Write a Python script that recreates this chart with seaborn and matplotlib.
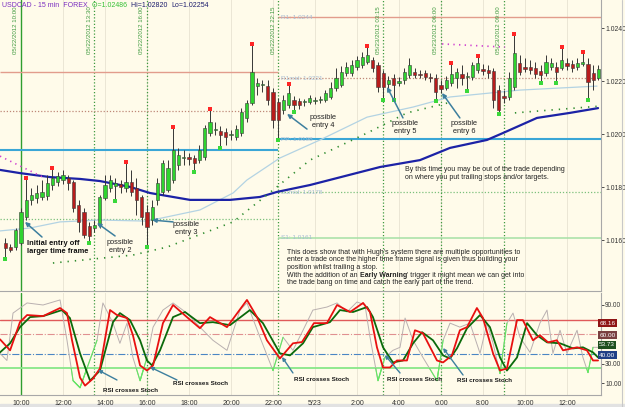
import numpy as np
import matplotlib
matplotlib.use('Agg')
import matplotlib.pyplot as plt
import matplotlib.transforms as mtransforms
import seaborn as sns
import pandas as pd

# ---- price data: 15 min bars, time in hours from 05/22 00:00 ----
bar_idx = list(range(1, 115))
opens = [1.01590, 1.01574, 1.01574, 1.01590, 1.01687, 1.01752, 1.01759, 1.01763, 1.01767, 1.01808,
         1.01820, 1.01827, 1.01835, 1.01820, 1.01733, 1.01706, 1.01654, 1.01646, 1.01657, 1.01759,
         1.01797, 1.01804, 1.01812, 1.01797, 1.01820, 1.01797, 1.01763, 1.01706, 1.01676, 1.01752,
         1.01782, 1.01789, 1.01827, 1.01884, 1.01910, 1.01914, 1.01910, 1.01902, 1.01914, 1.02004,
         1.02015, 1.02012, 1.02008, 1.01997, 1.01989, 1.02004, 1.02061, 1.02117, 1.02181, 1.02185,
         1.02181, 1.02159, 1.02121, 1.02091, 1.02110, 1.02129, 1.02125, 1.02121, 1.02121, 1.02125,
         1.02129, 1.02129, 1.02140, 1.02174, 1.02185, 1.02230, 1.02230, 1.02253, 1.02261, 1.02272,
         1.02279, 1.02261, 1.02230, 1.02189, 1.02212, 1.02193, 1.02204, 1.02223, 1.02234, 1.02227,
         1.02230, 1.02215, 1.02212, 1.02185, 1.02174, 1.02193, 1.02212, 1.02227, 1.02215, 1.02215,
         1.02242, 1.02245, 1.02242, 1.02238, 1.02166, 1.02144, 1.02140, 1.02178, 1.02268, 1.02253,
         1.02253, 1.02249, 1.02238, 1.02230, 1.02253, 1.02253, 1.02249, 1.02268, 1.02264, 1.02253,
         1.02264, 1.02264, 1.02230, 1.02212]
closes = [1.01571, 1.01563, 1.01638, 1.01706, 1.01752, 1.01770, 1.01778, 1.01782, 1.01816, 1.01835,
          1.01842, 1.01846, 1.01816, 1.01721, 1.01669, 1.01620, 1.01616, 1.01657, 1.01763, 1.01808,
          1.01827, 1.01816, 1.01801, 1.01820, 1.01782, 1.01752, 1.01687, 1.01650, 1.01725, 1.01816,
          1.01891, 1.01872, 1.01940, 1.01921, 1.01914, 1.01906, 1.01891, 1.01940, 1.02023, 1.02046,
          1.02019, 1.01997, 1.01989, 1.02000, 1.02019, 1.02083, 1.02117, 1.02234, 1.02193, 1.02189,
          1.02129, 1.02053, 1.02053, 1.02129, 1.02155, 1.02110, 1.02110, 1.02125, 1.02136, 1.02129,
          1.02132, 1.02155, 1.02174, 1.02212, 1.02234, 1.02253, 1.02261, 1.02279, 1.02291, 1.02298,
          1.02249, 1.02178, 1.02178, 1.02204, 1.02185, 1.02200, 1.02234, 1.02261, 1.02223, 1.02223,
          1.02215, 1.02212, 1.02159, 1.02170, 1.02204, 1.02227, 1.02234, 1.02212, 1.02219, 1.02261,
          1.02268, 1.02238, 1.02230, 1.02129, 1.02091, 1.02136, 1.02212, 1.02306, 1.02234, 1.02245,
          1.02242, 1.02227, 1.02223, 1.02272, 1.02268, 1.02234, 1.02279, 1.02257, 1.02249, 1.02268,
          1.02272, 1.02196, 1.02204, 1.02245]
highs = [1.01608, 1.01586, 1.01646, 1.01721, 1.01835, 1.01797, 1.01808, 1.01827, 1.01846, 1.01872,
         1.01857, 1.01865, 1.01846, 1.01827, 1.01752, 1.01721, 1.01669, 1.01676, 1.01770, 1.01846,
         1.01846, 1.01835, 1.01827, 1.01895, 1.01865, 1.01835, 1.01770, 1.01733, 1.01752, 1.01835,
         1.01902, 1.01902, 1.02027, 1.01948, 1.01940, 1.01929, 1.01921, 1.01959, 1.02034, 1.02095,
         1.02046, 1.02031, 1.02023, 1.02015, 1.02034, 1.02098, 1.02129, 1.02340, 1.02212, 1.02204,
         1.02204, 1.02174, 1.02136, 1.02147, 1.02189, 1.02144, 1.02136, 1.02132, 1.02147, 1.02140,
         1.02144, 1.02166, 1.02196, 1.02249, 1.02257, 1.02272, 1.02279, 1.02294, 1.02310, 1.02332,
         1.02291, 1.02272, 1.02242, 1.02219, 1.02227, 1.02215, 1.02249, 1.02287, 1.02249, 1.02242,
         1.02242, 1.02230, 1.02227, 1.02204, 1.02219, 1.02268, 1.02249, 1.02261, 1.02234, 1.02272,
         1.02294, 1.02264, 1.02261, 1.02249, 1.02185, 1.02166, 1.02234, 1.02377, 1.02298, 1.02287,
         1.02279, 1.02272, 1.02261, 1.02298, 1.02287, 1.02272, 1.02328, 1.02287, 1.02279, 1.02287,
         1.02310, 1.02287, 1.02261, 1.02261]
lows = [1.01529, 1.01556, 1.01563, 1.01582, 1.01676, 1.01733, 1.01740, 1.01752, 1.01752, 1.01789,
        1.01804, 1.01812, 1.01789, 1.01706, 1.01631, 1.01608, 1.01590, 1.01631, 1.01646, 1.01752,
        1.01782, 1.01748, 1.01778, 1.01782, 1.01767, 1.01695, 1.01657, 1.01574, 1.01657, 1.01733,
        1.01770, 1.01782, 1.01816, 1.01865, 1.01884, 1.01884, 1.01857, 1.01891, 1.01902, 1.01993,
        1.01997, 1.01948, 1.01959, 1.01978, 1.01978, 1.01993, 1.02046, 1.02110, 1.02147, 1.02159,
        1.02110, 1.02023, 1.01978, 1.02076, 1.02098, 1.02083, 1.02095, 1.02106, 1.02113, 1.02113,
        1.02117, 1.02121, 1.02132, 1.02162, 1.02178, 1.02219, 1.02219, 1.02242, 1.02249, 1.02264,
        1.02234, 1.02159, 1.02129, 1.02174, 1.02129, 1.02181, 1.02189, 1.02212, 1.02212, 1.02212,
        1.02204, 1.02196, 1.02125, 1.02155, 1.02166, 1.02181, 1.02174, 1.02185, 1.02162, 1.02204,
        1.02230, 1.02223, 1.02212, 1.02098, 1.02076, 1.02117, 1.02129, 1.02166, 1.02223, 1.02234,
        1.02227, 1.02212, 1.02193, 1.02219, 1.02242, 1.02193, 1.02242, 1.02242, 1.02234, 1.02242,
        1.02257, 1.02129, 1.02166, 1.02204]
fractal_high_idx = [5, 10, 24, 33, 40, 48, 55, 70, 86, 91, 98, 107, 111]
fractal_low_idx = [1, 17, 22, 28, 37, 42, 53, 56, 73, 75, 83, 89, 95, 103, 106, 112]

# moving averages
ma_slow_t = [9.0, 9.95, 11.38, 12.81, 13.76, 15.19, 16.14, 18.05, 19.95, 21.38, 22.19, 23.76,
             27.10, 29.0, 30.43, 32.19, 32.95, 34.57, 36.14, 37.48]
ma_slow_v = [1.01865, 1.01853, 1.01838, 1.01831, 1.01823, 1.01801, 1.01778, 1.01752, 1.01752,
             1.01763, 1.01782, 1.01808, 1.01876, 1.01902, 1.01948, 1.01978, 1.02004, 1.02061,
             1.02080, 1.02098]
ma_fast_t = [9.0, 10.43, 11.86, 13.76, 16.0, 18.52, 20.10, 20.76, 22.33, 24.24, 26.48, 28.67,
             30.43, 33.76, 37.43]
ma_fast_v = [1.01635, 1.01646, 1.01669, 1.01676, 1.01672, 1.01714, 1.01778, 1.01827, 1.01910,
             1.01978, 1.02064, 1.02102, 1.02140, 1.02166, 1.02181]
trail1_t = [11.52, 15.33, 16.95, 20.10, 22.0, 23.76, 26.48, 28.38, 30.29]
trail1_v = [1.01514, 1.01544, 1.01574, 1.01669, 1.01789, 1.01902, 1.02004, 1.02080, 1.02117]
trail2_t = [33.52, 37.48]
trail2_v = [1.02080, 1.02105]
mag1_t = [9.0, 11.14]
mag1_v = [1.01917, 1.01834]
mag2_t = [30.05, 33.05]
mag2_v = [1.02340, 1.02328]

# pivots
piv_split = 22.25
piv_left = [1.02234, 1.02087, 1.01940, 1.01680]
piv_right = [1.0244, 1.0221, 1.0198, 1.0178, 1.0161]
piv_names = ['R1', 'R1mid', 'PP', 'S1mid', 'S1']

# event lines
event_t = [10.0, 13.5, 16.0, 22.25, 27.25, 30.0, 33.0]
event_lbl = ['05/22/2012 10:00', '05/22/2012 13:30', '05/22/2012 16:00', '05/22/2012 22:15',
             '05/23/2012 03:15', '05/23/2012 06:00', '05/23/2012 09:00']

# ---- indicator ----
rsi_t = [9.0, 9.48, 9.95, 10.29, 11.05, 11.86, 12.19, 12.43, 12.81, 13.05, 13.43, 13.76, 14.24,
         14.57, 15.05, 15.33, 15.67, 16.0, 16.29, 16.76, 17.24, 17.90, 18.52, 19.0, 19.81, 20.76,
         21.24, 21.71, 22.33, 22.95, 23.38, 23.95, 24.57, 25.05, 25.67, 26.29, 26.62, 26.95, 27.24,
         27.57, 27.9, 28.38, 28.76, 29.14, 29.81, 30.1, 30.52, 30.9, 31.24, 31.71, 32.0, 32.48,
         32.81, 33.14, 33.62, 33.9, 34.38, 34.71, 35.1, 35.52, 35.81, 36.48, 36.95, 37.24, 37.48]
rsi_v = [54.8, 43.5, 72.4, 79.7, 78.6, 86.9, 81.7, 53.8, 15.6, 7.3, 14.5, 24.9, 84.8,
         79.7, 76.6, 59.0, 28.0, 22.8, 28.0, 71.4, 90.0, 77.6, 66.2, 77.6, 67.3, 95.2,
         77.6, 53.8, 35.2, 50.7, 52.0, 71.4, 71.4, 90.0, 82.8, 92.1, 82.8, 46.6, 25.9,
         25.9, 33.1, 33.1, 64.1, 61.0, 33.1, 31.1, 38.3, 64.1, 67.3, 86.9, 76.6, 40.4,
         22.8, 24.9, 74.5, 74.5, 53.8, 59.0, 51.7, 53.8, 43.5, 46.6, 43.5, 33.1, 33.1]
stoch_t = [9.0, 9.48, 9.95, 10.43, 11.05, 11.95, 12.33, 12.81, 13.29, 13.76, 14.38, 14.71, 15.19,
           15.67, 16.0, 16.24, 16.62, 17.24, 17.81, 18.52, 19.14, 19.95, 20.90, 21.52, 22.33,
           22.81, 23.43, 23.90, 24.71, 25.19, 25.81, 26.48, 26.76, 27.24, 27.71, 28.19, 28.67,
           29.10, 29.62, 30.10, 30.43, 30.76, 31.24, 31.86, 32.33, 32.81, 33.14, 33.62, 34.10,
           34.57, 35.05, 35.67, 36.29, 36.76, 37.24, 37.48]
stoch_v = [41.4, 50.7, 67.3, 77.6, 78.6, 84.8, 76.6, 40.4, 12.4, 22.8, 72.4, 81.7, 74.5,
           53.8, 33.1, 28.0, 43.5, 77.6, 82.8, 71.4, 72.4, 69.3, 84.8, 71.4, 40.4,
           38.3, 50.7, 67.3, 72.4, 84.8, 82.8, 87.9, 77.6, 46.6, 31.1, 33.1, 50.7,
           62.1, 53.8, 38.3, 35.2, 45.5, 66.2, 79.7, 67.3, 36.2, 22.8, 36.2, 71.4,
           59.0, 51.7, 50.7, 45.5, 46.6, 41.4, 36.2]
raw_t = [9.0, 9.33, 9.62, 10.29, 11.05, 11.86, 12.19, 12.48, 12.81, 13.62, 13.90, 14.38, 14.71,
         15.05, 15.33, 15.67, 16.0, 16.29, 16.76, 17.24, 17.90, 18.52, 19.14, 19.81, 20.43, 20.76,
         21.38, 22.0, 22.48, 22.95, 23.43, 23.90, 24.57, 25.05, 25.52, 26.0, 26.38, 26.62, 27.0,
         27.33, 27.71, 28.05, 28.29, 28.67, 29.14, 29.81, 30.10, 30.43, 30.90, 31.38, 31.86, 32.19,
         32.48, 32.81, 33.14, 33.43, 33.76, 34.24, 34.71, 35.05, 35.33, 35.67, 36.0, 36.48, 36.76,
         37.0, 37.24, 37.48]
raw_v = [40.4, 33.1, 81.7, 92.1, 90.0, 95.2, 53.8, 12.4, 5.2, 53.8, 92.1, 71.4, 50.7,
         71.4, 36.2, 12.4, 36.2, 67.3, 84.8, 92.1, 81.7, 67.3, 53.8, 43.5, 84.8, 92.1,
         56.9, 22.8, 56.9, 43.5, 64.1, 84.8, 87.9, 92.1, 82.8, 93.1, 90.0, 56.9, 12.4,
         36.2, 43.5, 46.6, 76.6, 53.8, 36.2, 12.4, 53.8, 71.4, 67.3, 71.4, 40.4, 71.4,
         50.7, 19.7, 71.4, 81.7, 56.9, 41.4, 71.4, 84.8, 40.4, 64.1, 40.4, 64.1, 36.2,
         20.7, 46.6, 46.6]
ind_levels = [75, 60, 40, 25]
box_vals = ['68.16', '60.00', '53.73', '40.00']
box_y = [71.5, 59.2, 49.0, 38.7]
box_cols = ['#8e1414', '#7a4040', '#1e4f1e', '#1f3f86']

xtick_t = [10, 12, 14, 16, 18, 20, 22, 24, 26, 28, 30, 32, 34, 36]
xtick_lbl = ['10:00', '12:00', '14:00', '16:00', '18:00', '20:00', '22:00', '5/23',
             '2:00', '4:00', '6:00', '8:00', '10:00', '12:00']

sns.set_style('white')
plt.rcParams['font.family'] = ['Liberation Sans', 'DejaVu Sans']

BG = '#fffbea'
W, H = 625.0, 407.0
XL = (9.0, 37.62)
FS = 5.0
fig = plt.figure(figsize=(6.25, 4.07), dpi=100, facecolor=BG)
ax = fig.add_axes([0, 1 - 291 / H, 601 / W, 291 / H], facecolor=BG)
ax2 = fig.add_axes([0, 1 - 395 / H, 601 / W, 102 / H], facecolor=BG)

for a in (ax, ax2):
    a.set_xlim(*XL)
    for s in ('left', 'top'):
        a.spines[s].set_visible(False)
    for s in ('right', 'bottom'):
        a.spines[s].set_color('#a8a8a8')
        a.spines[s].set_linewidth(0.8)
    a.vlines(xtick_t[1:], -10, 10, transform=a.get_xaxis_transform(), color='#e8e3d2', lw=0.6, zorder=0)
    for t in event_t:
        if t == 10.0:
            a.axvline(t, color='#2f9e2f', lw=1.0, zorder=1)
        else:
            a.axvline(t, color='#3f9a3f', lw=0.9, ls=(0, (1, 1.6)), zorder=1)

ax.set_ylim(1.014085, 1.025056)
ax2.set_ylim(-2.3, 102.3)

# pivots
piv_styles = [dict(color='#e29c8c', lw=1.0, ls='-'), dict(color='#bf8878', lw=0.9, ls=(0, (1, 1.5))),
              dict(color='#3aa6d6', lw=1.5, ls='-'), dict(color='#7cc07c', lw=0.9, ls=(0, (1, 1.5))),
              dict(color='#a6e0a6', lw=1.1, ls='-')]
for i, v in enumerate(piv_left):
    ax.hlines(v, XL[0], piv_split, zorder=1, **piv_styles[i])
for i, v in enumerate(piv_right):
    ax.hlines(v, piv_split, XL[1], zorder=1, **piv_styles[i])
    ax.text(piv_split + 0.12, v, f'{piv_names[i]}: {v:.4f}', fontsize=4.6, color='#a6bcd4',
            va='center', ha='left', zorder=2)

# trails and averages
sns.lineplot(x=ma_fast_t, y=ma_fast_v, ax=ax, color='#b3d3e3', lw=0.9, sort=False, estimator=None, zorder=2)
sns.lineplot(x=ma_slow_t, y=ma_slow_v, ax=ax, color='#1c22a6', lw=1.6, sort=False, estimator=None, zorder=2)
for tt, vv in ((trail1_t, trail1_v), (trail2_t, trail2_v)):
    ax.plot(tt, vv, color='#2e8b2e', lw=1.2, ls=(0, (0.8, 3.6)), zorder=2)
for tt, vv in ((mag1_t, mag1_v), (mag2_t, mag2_v)):
    ax.plot(tt, vv, color='#d040d0', lw=1.2, ls=(0, (0.8, 2.6)), zorder=2)

# candles
df = pd.DataFrame({'k': bar_idx, 'o': opens, 'h': highs, 'l': lows, 'c': closes})
df['t'] = 9.0 + df['k'] * 0.25
up = df['c'] >= df['o']
ax.vlines(df['t'], df['l'], df['h'], color='#363636', lw=0.7, zorder=3)
body = (df['c'] - df['o']).abs().clip(lower=0.00003)
ax.bar(df['t'], body, bottom=df[['o', 'c']].min(axis=1), width=0.15,
       color=np.where(up, '#2fd32f', '#b81c1c'), edgecolor='#3a3a3a', linewidth=0.4, zorder=4)
hi = df[df['k'].isin(fractal_high_idx)]
lo = df[df['k'].isin(fractal_low_idx)]
sns.scatterplot(x=hi['t'], y=hi['h'], ax=ax, color='#ff2626', s=7, marker='s', linewidth=0, zorder=5)
sns.scatterplot(x=lo['t'], y=lo['l'], ax=ax, color='#3ad83a', s=7, marker='s', linewidth=0, zorder=5)

# event labels
for t, lbl in zip(event_t, event_lbl):
    ax.text(t - 0.12, 0.978, lbl, transform=ax.get_xaxis_transform(), rotation=90, fontsize=4.4,
            color='#3f9a3f', ha='right', va='top', zorder=6)

# annotations in price pane
arrow = dict(arrowstyle='-|>', color='#3d7f9e', lw=1.1, mutation_scale=6, shrinkA=0, shrinkB=0)
ax.text(10.29, 1.01601, 'Initial entry off\nlarger time frame', fontsize=5.4, fontweight='bold',
        ha='left', va='top', color='#111111', linespacing=1.25, zorder=7)
ax.annotate('', xy=(10.19, 1.01669), xytext=(11.0, 1.01612), arrowprops=arrow, zorder=7)
entries = [('possible\nentry 2', 14.71, 1.01605, (13.62, 1.01665), (14.48, 1.01616)),
           ('possible\nentry 3', 17.86, 1.01672, (16.24, 1.01676), (17.24, 1.01669)),
           ('possible\nentry 4', 24.38, 1.02076, (22.67, 1.02076), (23.62, 1.02019)),
           ('possible\nentry 5', 28.29, 1.02053, (27.43, 1.02178), (28.19, 1.02061)),
           ('possible\nentry 6', 31.10, 1.02053, (30.05, 1.02155), (30.90, 1.02061))]
for txt, tx, ty, head, tail in entries:
    ax.text(tx, ty, txt, fontsize=5.3, ha='center', va='top', color='#222222', linespacing=1.25, zorder=7)
    ax.annotate('', xy=head, xytext=tail, arrowprops=arrow, zorder=7)

ax.text(28.29, 1.01881, 'By this time you may be out of the trade depending\n'
        'on where you put trailing stops and/or targets.', fontsize=FS, ha='left', va='top',
        color='#222222', linespacing=1.3, zorder=7)

note = ["This does show that with Hugh's system there are multiple opportunities to",
        "enter a trade once the higher time frame signal is given thus building your",
        "position whilst trailing a stop."]
x0, y0 = 22.67, 1.01568
for i, line in enumerate(note):
    tr = mtransforms.offset_copy(ax.transData, fig=fig, y=-i * 7.7, units='dots')
    ax.text(x0, y0, line, transform=tr, fontsize=FS, ha='left', va='top', color='#222222', zorder=7)
tr = mtransforms.offset_copy(ax.transData, fig=fig, y=-3 * 7.7, units='dots')
t4a = ax.text(x0, y0, 'With the addition of an ', transform=tr, fontsize=FS, ha='left', va='top',
              color='#222222', zorder=7)
t4b = ax.annotate('Early Warning', xy=(1, 0), xycoords=t4a, va='bottom', ha='left', fontsize=FS,
                  fontweight='bold', color='#222222', zorder=7)
ax.annotate("' trigger it might mean we can get into", xy=(1, 0), xycoords=t4b, va='bottom', ha='left',
            fontsize=FS, color='#222222', zorder=7)
tr = mtransforms.offset_copy(ax.transData, fig=fig, y=-4 * 7.7, units='dots')
ax.text(x0, y0, 'the trade bang on time and catch the early part of the trend.', transform=tr,
        fontsize=FS, ha='left', va='top', color='#222222', zorder=7)

# price axis
ax.yaxis.tick_right()
ax.set_yticks([1.016, 1.018, 1.020, 1.022, 1.024])
ax.set_yticklabels(['1.0160', '1.0180', '1.0200', '1.0220', '1.0240'])
ax.tick_params(axis='y', labelsize=4.9, length=2, width=0.6, pad=1, colors='#333333')
ax.set_xticks([])
ax.set_xlabel('')
ax.set_ylabel('')

# ---- indicator pane ----
lvl_styles = [dict(color='#e05a5a', lw=1.0, ls='-'), dict(color='#e09090', lw=0.8, ls='-.'),
              dict(color='#4a86c4', lw=0.8, ls='-.'), dict(color='#88e888', lw=1.3, ls='-')]
for v, st in zip(ind_levels, lvl_styles):
    ax2.axhline(v, zorder=1, **st)

sns.lineplot(x=raw_t, y=raw_v, ax=ax2, color='#b9b0b0', lw=0.7, sort=False, estimator=None, zorder=2)
clip = plt.Rectangle((0, -50), 60, 75, transform=ax2.transData, fill=False, visible=False)
ax2.add_patch(clip)
gl, = ax2.plot(raw_t, raw_v, color='#62e862', lw=0.8, zorder=2)
gl.set_clip_path(clip)
for i in range(len(raw_t) - 1):
    if raw_v[i] < 25:
        ax2.plot(raw_t[i:i + 2], raw_v[i:i + 2], color='#62e862', lw=0.8, zorder=2)
sns.lineplot(x=stoch_t, y=stoch_v, ax=ax2, color='#0b6a0b', lw=1.3, sort=False, estimator=None, zorder=3)
sns.lineplot(x=rsi_t, y=rsi_v, ax=ax2, color='#e81010', lw=1.3, sort=False, estimator=None, zorder=4)

arrow2 = dict(arrowstyle='-|>', color='#3d7f9e', lw=1.0, mutation_scale=5, shrinkA=0, shrinkB=0)
rsi_notes = [(13.90, 2.8, (13.67, 23.3), (14.57, 13.1)),
             (17.24, 9.0, (16.14, 26.4), (17.43, 13.1)),
             (23.0, 13.1, (22.43, 36.7), (22.95, 20.3)),
             (27.43, 13.1, (27.33, 38.7), (28.05, 20.3)),
             (30.76, 12.1, (30.10, 45.9), (31.05, 18.2))]
for tx, ty, head, tail in rsi_notes:
    ax2.annotate('', xy=head, xytext=tail, arrowprops=arrow2, zorder=6)
    ax2.text(tx, ty, 'RSI crosses Stoch', fontsize=4.5, fontweight='bold', color='#1a1a1a',
             ha='left', va='center', zorder=7)

ax2.yaxis.tick_right()
ax2.set_yticks([10, 30, 90])
ax2.set_yticklabels(['10.00', '30.00', '90.00'])
ax2.tick_params(axis='y', labelsize=4.7, length=2, width=0.6, pad=1, colors='#333333')
ax2.set_xticks(xtick_t)
ax2.set_xticklabels(xtick_lbl)
ax2.tick_params(axis='x', labelsize=5.0, length=2, width=0.6, pad=1.5, colors='#333333')
ax2.set_xlabel('')
ax2.set_ylabel('')
bt = mtransforms.blended_transform_factory(ax2.transAxes, ax2.transData)
for lbl, yv, col in zip(box_vals, box_y, box_cols):
    ax2.text(0.997, yv, lbl, transform=bt, fontsize=4.6, color='white', ha='left', va='center',
             bbox=dict(boxstyle='square,pad=0.2', fc=col, ec='none'), zorder=8)

# title
ty = 1 - 5.5 / H
t1 = fig.text(2 / W, ty, 'USDCAD - 15 min  FOREX  ', fontsize=5.0, color='#7a2cc0', va='center', ha='left')
a1 = ax.annotate('O=1.02486  ', xy=(1, 0), xycoords=t1, va='bottom', ha='left', fontsize=5.0, color='#35c035')
a2 = ax.annotate('Hi=1.02820  ', xy=(1, 0), xycoords=a1, va='bottom', ha='left', fontsize=5.0, color='#1c1c6c')
ax.annotate('Lo=1.02254', xy=(1, 0), xycoords=a2, va='bottom', ha='left', fontsize=5.0, color='#1c1c6c')

fig.add_artist(plt.Rectangle((0, 0), 1, 3 / H, transform=fig.transFigure, color='#e2e2e2', zorder=0))
fig.add_artist(plt.Line2D([622 / W, 622 / W], [0, 1], transform=fig.transFigure, color='#c8c8c8', lw=0.8))

fig.savefig('out.png', dpi=100, facecolor=BG)
